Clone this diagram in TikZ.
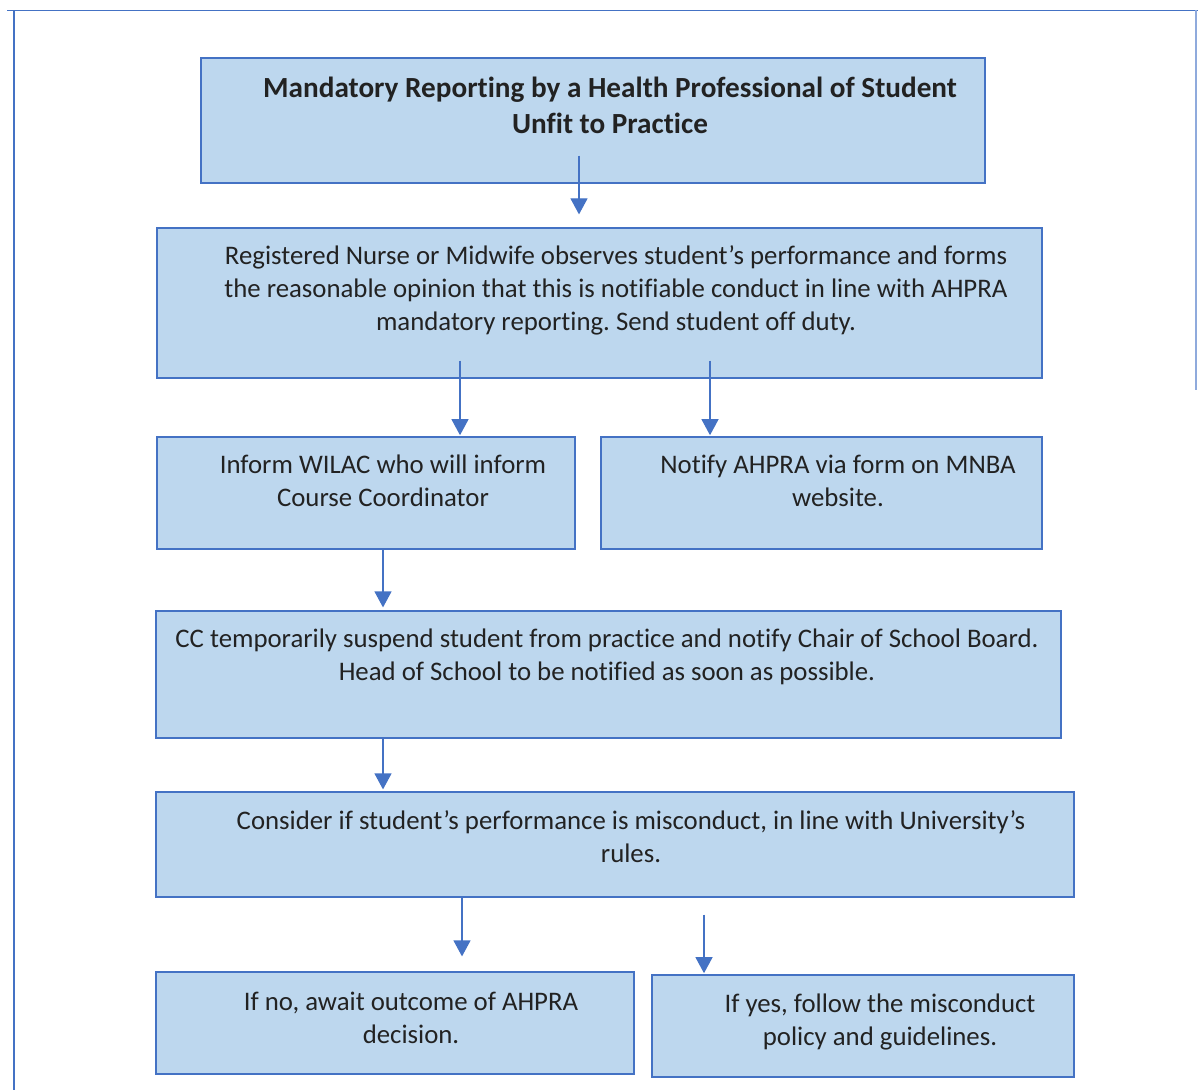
\documentclass[tikz,border=0pt]{standalone}
\usepackage{fontspec}
\setmainfont{Carlito}[Ligatures=NoCommon]
\usetikzlibrary{arrows.meta,fit}
\frenchspacing

\definecolor{boxfill}{HTML}{BDD7EE}
\definecolor{boxline}{HTML}{4472C4}
\definecolor{inktext}{HTML}{222222}

\tikzset{
  stepbox/.style={draw=boxline, fill=boxfill, line width=0.6pt, inner sep=0pt},
  steptext/.style={anchor=base, align=center, inner sep=0pt, text=inktext,
    font=\fontsize{13.4}{16.5}\selectfont},
  titletext/.style={steptext, font=\fontsize{14.6}{18}\selectfont\bfseries},
  flow/.style={draw=boxline, line width=0.6pt, -{Triangle[width=8.5pt,length=8pt]}}
}

\begin{document}
\begin{tikzpicture}[x=0.5pt,y=-0.5pt]
\useasboundingbox (0,0) rectangle (1198,1090);

% Page frame
\draw[boxline, line width=0.6pt] (7,10.5) -- (1198,10.5);
\draw[boxline, line width=0.6pt] (14,10.5) -- (14,1090);
\draw[boxline!60, line width=0.6pt] (1196,10.5) -- (1196,390);

% Boxes
\node[stepbox, fit={(201,58) (985,183)}] (title) {};
\node[stepbox, fit={(157,228) (1042,378)}] (observe) {};
\node[stepbox, fit={(157,437) (575,549)}] (wilac) {};
\node[stepbox, fit={(601,437) (1042,549)}] (ahpra) {};
\node[stepbox, fit={(156,611) (1061,738)}] (suspend) {};
\node[stepbox, fit={(156,792) (1074,897)}] (consider) {};
\node[stepbox, fit={(156,972) (634,1074)}] (no) {};
\node[stepbox, fit={(652,975) (1074,1077)}] (yes) {};

% Texts (base = baseline of the last line)
\node[titletext] (titlelbl) at (610,134) {Mandatory Reporting by a Health Professional of Student\\Unfit to Practice};
\node[steptext] (observelbl) at (616,331) {Registered Nurse or Midwife observes student’s performance and forms\\the reasonable opinion that this is notifiable conduct in line with AHPRA\\mandatory reporting. Send student off duty.};
\node[steptext] (wilaclbl) at (383,506) {Inform WILAC who will inform\\Course Coordinator};
\node[steptext] (ahpralbl) at (838,506) {Notify AHPRA via form on MNBA\\website.};
\node[steptext] (suspendlbl) at (607,680) {CC temporarily suspend student from practice and notify Chair of School Board.\\Head of School to be notified as soon as possible.};
\node[steptext] (considerlbl) at (631,862) {Consider if student’s performance is misconduct, in line with University’s\\rules.};
\node[steptext] (nolbl) at (411,1043) {If no, await outcome of AHPRA\\decision.};
\node[steptext] (yeslbl) at (880,1045) {If yes, follow the misconduct\\policy and guidelines.};

% Arrows
\coordinate (c1) at (579,0);
\coordinate (c2) at (460,0);
\coordinate (c3) at (710,0);
\coordinate (c4) at (383,0);
\coordinate (c5) at (462,0);
\coordinate (c6) at (704,0);
\draw[flow, shorten <=-14pt, shorten >=6.5pt] (title.south -| c1) -- (observe.north -| c1);
\draw[flow, shorten <=-9pt, shorten >=0.6pt] (observe.south -| c2) -- (wilac.north -| c2);
\draw[flow, shorten <=-9pt, shorten >=0.6pt] (observe.south -| c3) -- (ahpra.north -| c3);
\draw[flow, shorten >=1.5pt] (wilac.south -| c4) -- (suspend.north -| c4);
\draw[flow, shorten >=1pt] (suspend.south -| c4) -- (consider.north -| c4);
\draw[flow, shorten >=7.5pt] (consider.south -| c5) -- (no.north -| c5);
\draw[flow, shorten <=8.5pt, shorten >=0.6pt] (consider.south -| c6) -- (yes.north -| c6);
\end{tikzpicture}
\end{document}
